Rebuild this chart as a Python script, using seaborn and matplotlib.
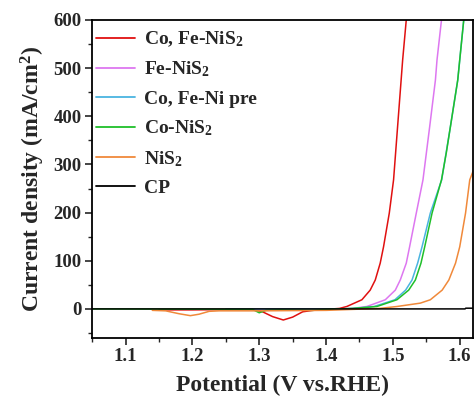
import numpy as np
import pandas as pd
import matplotlib
matplotlib.use("Agg")
import matplotlib.pyplot as plt
import seaborn as sns
from matplotlib.ticker import MultipleLocator

# LSV curves (potential V vs. RHE, current density mA/cm2)
labels = ["Co, Fe-NiS$_2$", "Fe-NiS$_2$", "Co, Fe-Ni pre", "Co-NiS$_2$", "NiS$_2$", "CP"]
colors = ["#e01010", "#dd77f0", "#4ab4e0", "#1fbf2a", "#f0893a", "#000000"]

red_x = [1.15, 1.20, 1.29, 1.305, 1.32, 1.336, 1.35, 1.365, 1.38, 1.40, 1.42, 1.431,
         1.4536, 1.466, 1.4736, 1.481, 1.486, 1.4946, 1.501, 1.507, 1.5146, 1.52]
red_y = [-2, -2, -1, -6, -16, -23, -17, -6, -3, -1, 1, 5,
         19, 39, 60, 95, 129, 199, 268, 378, 517, 600]

mag_x = [1.29, 1.42, 1.44, 1.461, 1.4886, 1.5036, 1.511, 1.520, 1.525, 1.535, 1.545,
         1.555, 1.5636, 1.566, 1.5727]
mag_y = [0, 0, 1, 5, 19, 39, 60, 95, 129, 199, 268, 378, 475, 517, 600]

cyan_x = [1.25, 1.42, 1.44, 1.472, 1.503, 1.519, 1.5286, 1.537, 1.5436, 1.556, 1.573,
          1.586, 1.597, 1.606]
cyan_y = [0, 0, 1, 5, 19, 39, 60, 95, 129, 199, 268, 378, 475, 600]

green_x = [1.05, 1.29, 1.30, 1.31, 1.33, 1.38, 1.40, 1.42, 1.44, 1.476, 1.506, 1.5236,
           1.5336, 1.542, 1.5476, 1.5586, 1.5727, 1.580, 1.586, 1.597, 1.600, 1.606]
green_y = [0, -1, -8, -3, -2, -3, -1, 0, 1, 5, 19, 39,
           60, 95, 129, 199, 268, 325, 378, 475, 517, 600]

orange_x = [1.14, 1.16, 1.18, 1.197, 1.21, 1.225, 1.24, 1.30, 1.40, 1.44, 1.48, 1.506,
            1.541, 1.556, 1.5737, 1.5837, 1.5937, 1.600, 1.6087, 1.615, 1.62]
orange_y = [-3, -4, -10, -14, -11, -5, -4, -4, -3, -1, 1, 5,
            12, 19, 39, 60, 95, 129, 199, 268, 286]

cp_x = [1.05, 1.40, 1.608, 1.609, 1.62]
cp_y = [0, 0, 0, 1.5, 1.5]

xs = [red_x, mag_x, cyan_x, green_x, orange_x, cp_x]
ys = [red_y, mag_y, cyan_y, green_y, orange_y, cp_y]

frames = []
for lab, x, y in zip(labels, xs, ys):
    frames.append(pd.DataFrame({"E": x, "j": y, "sample": lab}))
df = pd.concat(frames, ignore_index=True)

sns.set_style("ticks")
plt.rcParams["font.family"] = ["Liberation Serif", "DejaVu Serif"]
plt.rcParams["font.weight"] = "bold"
plt.rcParams["mathtext.fontset"] = "custom"
plt.rcParams["mathtext.rm"] = "Liberation Serif:bold"
plt.rcParams["mathtext.it"] = "Liberation Serif:bold"
plt.rcParams["mathtext.bf"] = "Liberation Serif:bold"

fig = plt.figure(figsize=(4.75, 4.07), dpi=100)
ax = fig.add_axes([0.194, 0.170, 0.802, 0.781])

sns.lineplot(data=df, x="E", y="j", hue="sample", hue_order=labels,
             palette=dict(zip(labels, colors)), sort=False, estimator=None,
             units="sample", linewidth=1.1, ax=ax)

ax.set_xlim(1.05, 1.62)
ax.set_ylim(-60, 600)
ax.xaxis.set_major_locator(MultipleLocator(0.1))
ax.xaxis.set_minor_locator(MultipleLocator(0.05))
ax.yaxis.set_major_locator(MultipleLocator(100))
ax.yaxis.set_minor_locator(MultipleLocator(50))
ax.tick_params(axis="both", which="major", labelsize=13.5, length=5, width=1.2,
               direction="out", pad=2.5)
ax.tick_params(axis="both", which="minor", length=3, width=1.0, direction="out")
ax.xaxis.set_major_formatter(matplotlib.ticker.FormatStrFormatter("%.1f"))
for sp in ax.spines.values():
    sp.set_linewidth(1.3)
    sp.set_color("black")

ax.set_xlabel("Potential (V vs.RHE)", fontsize=17, fontweight="bold", labelpad=7)
ax.set_ylabel("Current density (mA/cm$^2$)", fontsize=17, fontweight="bold", labelpad=5)

leg = ax.legend(loc="upper left", bbox_to_anchor=(0, 0.982), frameon=False, fontsize=14,
                handlelength=2.0, labelspacing=0.55, borderaxespad=0.0, borderpad=0.2,
                handletextpad=0.45)
for line in leg.get_lines():
    line.set_linewidth(1.3)

fig.savefig("out.png", dpi=100)
